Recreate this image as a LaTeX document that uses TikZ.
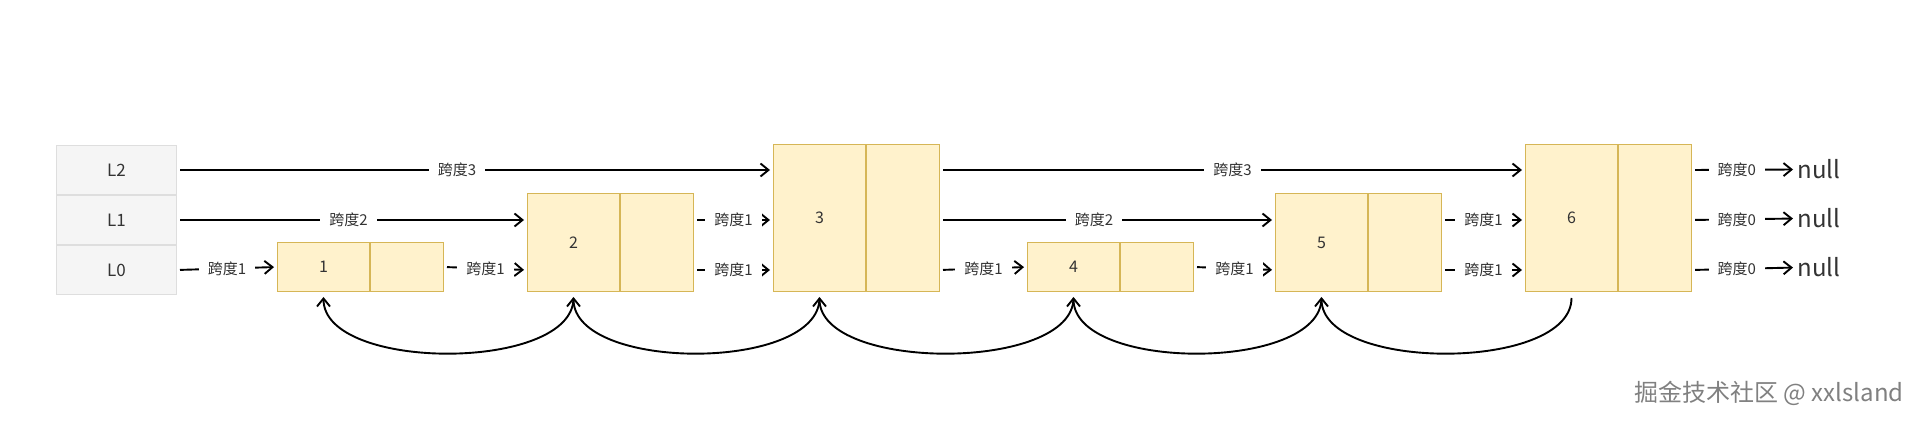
\documentclass[tikz,border=0pt]{standalone}
\usepackage{fontspec}
\setmainfont{Noto Sans CJK SC}
\usetikzlibrary{arrows.meta,positioning}

\definecolor{cellfill}{HTML}{FFF2CC}
\definecolor{cellline}{HTML}{D6B656}
\definecolor{lvlfill}{HTML}{F5F5F5}
\definecolor{lvlline}{HTML}{DEDEDE}
\definecolor{txt}{HTML}{333333}

\tikzset{
  lvl/.style={draw=lvlline, fill=lvlfill, line width=0.5pt, minimum width=60pt,
    minimum height=24.5pt, inner sep=0pt, text=txt, font=\fontsize{8.5}{10}\selectfont},
  cell/.style={draw=cellline, fill=cellfill, line width=0.5pt, minimum width=46pt,
    inner sep=0pt, text=txt, font=\fontsize{8}{10}\selectfont},
  cellr/.style={cell, minimum width=36.5pt},
  link/.style={line width=0.95pt, -{Straight Barb[length=4pt,width=6.5pt]},
    shorten <=1.5pt, shorten >=1.5pt},
  back/.style={line width=0.95pt, -{Straight Barb[length=4pt,width=6.5pt]},
    shorten <=3pt, shorten >=2.5pt},
  span/.style={fill=white, inner xsep=4.5pt, inner ysep=1pt, text=txt,
    font=\fontsize{7.5}{9}\selectfont},
  nulltxt/.style={inner sep=0.5pt, text=txt, font=\fontsize{12}{14}\selectfont},
  wmark/.style={inner sep=0pt, text=black!50, font=\fontsize{12}{14}\selectfont},
}

\begin{document}
\begin{tikzpicture}[x=0.5pt, y=-0.5pt]

\useasboundingbox (0,0) rectangle (1921,426);

% levels
\node[lvl, anchor=north west] (L2) at (56,145) {L2};
\node[lvl, below=0pt of L2] (L1) {L1};
\node[lvl, below=0pt of L1] (L0) {L0};

% skiplist nodes
\node[cell, minimum height=24.5pt, anchor=south west] (n1) at (277,292) {1};
\node[cellr, minimum height=24.5pt, right=0pt of n1] (n1r) {};

\node[cell, minimum height=49pt, anchor=south west] (n2) at (527,292) {2};
\node[cellr, minimum height=49pt, right=0pt of n2] (n2r) {};

\node[cell, minimum height=73.5pt, anchor=south west] (n3) at (773,292) {3};
\node[cellr, minimum height=73.5pt, right=0pt of n3] (n3r) {};

\node[cell, minimum height=24.5pt, anchor=south west] (n4) at (1027,292) {4};
\node[cellr, minimum height=24.5pt, right=0pt of n4] (n4r) {};

\node[cell, minimum height=49pt, anchor=south west] (n5) at (1275,292) {5};
\node[cellr, minimum height=49pt, right=0pt of n5] (n5r) {};

\node[cell, minimum height=73.5pt, anchor=south west] (n6) at (1525,292) {6};
\node[cellr, minimum height=73.5pt, right=0pt of n6] (n6r) {};

\node[nulltxt, anchor=west] (null2) at (1796,169.5) {null};
\node[nulltxt, anchor=west] (null1) at (1796,218.5) {null};
\node[nulltxt, anchor=west] (null0) at (1796,267.5) {null};

% level 0
\draw[link] (L0.east) -- node[span]{跨度1} (n1.west);
\draw[link] (n1r.east) -- node[span]{跨度1} (n2.west |- L0.east);
\draw[link] (n2r.east |- L0.east) -- node[span]{跨度1} (n3.west |- L0.east);
\draw[link] (n3r.east |- L0.east) -- node[span]{跨度1} (n4.west);
\draw[link] (n4r.east) -- node[span]{跨度1} (n5.west |- L0.east);
\draw[link] (n5r.east |- L0.east) -- node[span]{跨度1} (n6.west |- L0.east);
\draw[link] (n6r.east |- L0.east) -- node[span, pos=0.43]{跨度0} (null0.west);

% level 1
\draw[link] (L1.east) -- node[span, pos=0.49]{跨度2} (n2.west |- L1.east);
\draw[link] (n2r.east |- L1.east) -- node[span]{跨度1} (n3.west |- L1.east);
\draw[link] (n3r.east |- L1.east) -- node[span, pos=0.46]{跨度2} (n5.west |- L1.east);
\draw[link] (n5r.east |- L1.east) -- node[span]{跨度1} (n6.west |- L1.east);
\draw[link] (n6r.east |- L1.east) -- node[span, pos=0.43]{跨度0} (null1.west);

% level 2
\draw[link] (L2.east) -- node[span, pos=0.47]{跨度3} (n3.west |- L2.east);
\draw[link] (n3r.east |- L2.east) -- node[span]{跨度3} (n6.west |- L2.east);
\draw[link] (n6r.east |- L2.east) -- node[span, pos=0.43]{跨度0} (null2.west);

% backward pointers
\draw[back] (n2.south) .. controls +(0,80) and +(0,80) .. (n1.south);
\draw[back] (n3.south) .. controls +(0,80) and +(0,80) .. (n2.south);
\draw[back] (n4.south) .. controls +(0,80) and +(0,80) .. (n3.south);
\draw[back] (n5.south) .. controls +(0,80) and +(0,80) .. (n4.south);
\draw[back] (n6.south) .. controls +(0,80) and +(0,80) .. (n5.south);

\node[wmark, anchor=east] (wm) at (1904,393) {掘金技术社区 @ xxlsland};

\end{tikzpicture}
\end{document}
